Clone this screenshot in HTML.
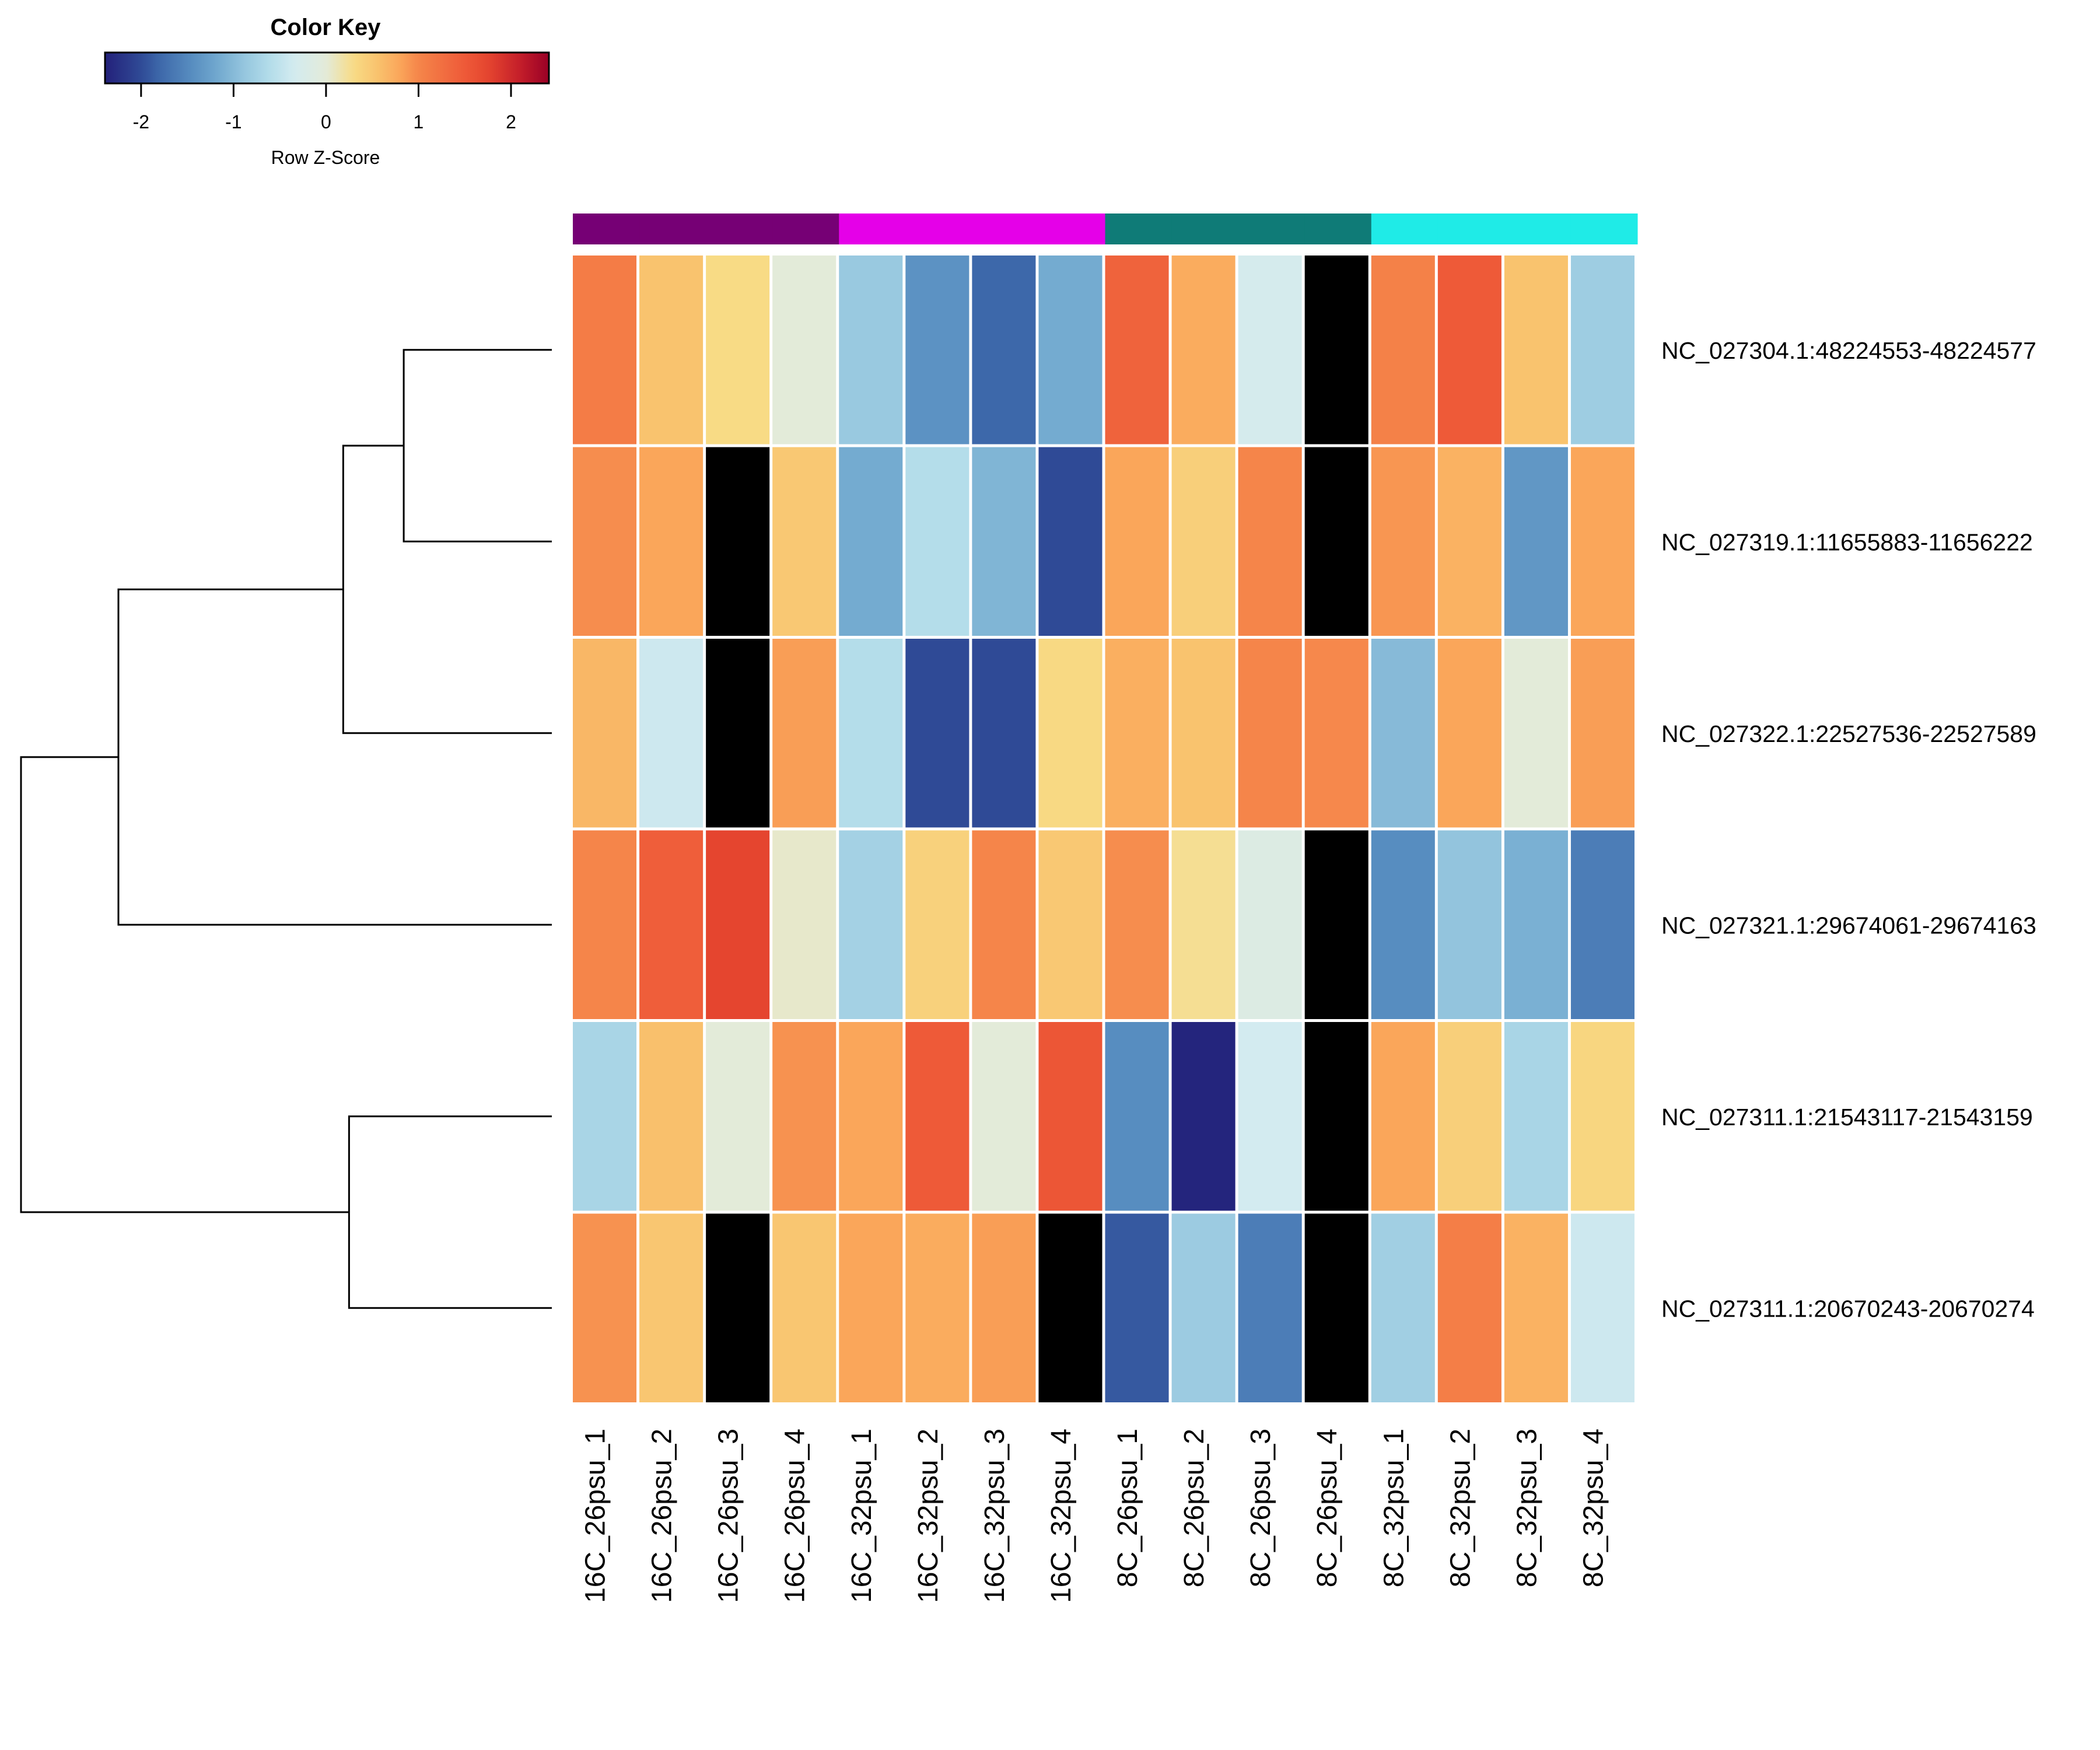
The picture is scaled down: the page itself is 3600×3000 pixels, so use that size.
<!DOCTYPE html>
<html><head><meta charset="utf-8">
<style>html,body{margin:0;padding:0;background:#fff}svg{display:block}text{font-family:"Liberation Sans",Arial,sans-serif}</style>
</head><body>
<svg id="chart" width="3600" height="3000" viewBox="0 0 3600 3000" xmlns="http://www.w3.org/2000/svg">
<rect width="3600" height="3000" fill="#fff"/>
<defs><linearGradient id="keygrad" x1="0" x2="1" y1="0" y2="0"></linearGradient></defs>
<g id="key"></g>
<g id="dendro"></g>
<g id="colbar"></g>
<g id="cells"></g>
<g id="rowlabels"></g>
<g id="collabels"></g>
</svg>
<script>
const columns = ["16C_26psu_1","16C_26psu_2","16C_26psu_3","16C_26psu_4","16C_32psu_1","16C_32psu_2","16C_32psu_3","16C_32psu_4","8C_26psu_1","8C_26psu_2","8C_26psu_3","8C_26psu_4","8C_32psu_1","8C_32psu_2","8C_32psu_3","8C_32psu_4"];
const rows = ["NC_027304.1:48224553-48224577","NC_027319.1:11655883-11656222","NC_027322.1:22527536-22527589","NC_027321.1:29674061-29674163","NC_027311.1:21543117-21543159","NC_027311.1:20670243-20670274"];
const groups = ["16C_26psu","16C_32psu","8C_26psu","8C_32psu"];
const groupColors = ["#760075","#E500E8","#0F7B77","#1FEBE7"];
const row1 = [1.1,0.55,0.3,0.0,-0.85,-1.4,-1.8,-1.15,1.4,0.75,-0.3,null,1.05,1.5,0.55,-0.8];
const row2 = [0.95,0.8,null,0.5,-1.15,-0.6,-1.05,-2.0,0.8,0.42,1.0,null,0.9,0.7,-1.35,0.8];
const row3 = [0.65,-0.4,null,0.85,-0.6,-2.0,-2.0,0.32,0.72,0.55,1.0,0.98,-1.0,0.8,0.0,0.85];
const row4 = [1.0,1.45,1.75,0.05,-0.75,0.4,1.0,0.5,0.95,0.25,-0.15,null,-1.45,-0.9,-1.1,-1.6];
const row5 = [-0.7,0.58,0.0,0.92,0.8,1.5,0.0,1.55,-1.45,-2.35,-0.35,null,0.8,0.42,-0.7,0.35];
const row6 = [0.92,0.52,null,0.52,0.8,0.75,0.85,null,-1.9,-0.82,-1.6,null,-0.78,1.08,0.7,-0.4];
const values = [row1,row2,row3,row4,row5,row6];
const keyTicks = [-2,-1,0,1,2];
const keyRange = [-2.39,2.41];
const mergeLeft = ['L0','A','B','L4','C'];
const mergeRight = ['L1','L2','L3','L5','D'];
const mergeHeights = [0.279,0.393,0.8165,0.382,1.0];

const stops = [[-2.4,"#232079"],[-2.0,"#2F4A96"],[-1.8,"#3D68AA"],[-1.45,"#578DC0"],[-1.15,"#74ABD0"],[-0.85,"#99C9E0"],[-0.6,"#B4DDEA"],[-0.35,"#D3EBF0"],[0,"#E3EBD9"],[0.3,"#F8DB85"],[0.55,"#F9C36E"],[0.8,"#FAA65A"],[1.0,"#F5854A"],[1.5,"#EE5A38"],[1.75,"#E5452F"],[2.1,"#C41E2A"],[2.41,"#990026"]];
function hex(h){return [1,3,5].map(i=>parseInt(h.substr(i,2),16));}
function color(v){
  if(v===null) return "#000";
  if(v<=stops[0][0]) return stops[0][1];
  for(let i=1;i<stops.length;i++){
    if(v<=stops[i][0]){
      const t=(v-stops[i-1][0])/(stops[i][0]-stops[i-1][0]);
      const a=hex(stops[i-1][1]), b=hex(stops[i][1]);
      return "rgb("+a.map((c,k)=>Math.round(c+(b[k]-c)*t)).join(",")+")";
    }
  }
  return stops[stops.length-1][1];
}
const NS="http://www.w3.org/2000/svg";
function mk(tag,attrs,parent){const e=document.createElementNS(NS,tag);for(const k in attrs)e.setAttribute(k,attrs[k]);parent.appendChild(e);return e;}

const hx0=982, hx1=2802, hy0=438, hy1=2404, gap=5;
const colW=(hx1-hx0+gap)/columns.length, rowH=(hy1-hy0+gap)/rows.length;
const xCol=i=>hx0+i*colW, yRow=j=>hy0+j*rowH;

const key=document.getElementById('key');
const kx0=180,kx1=941,ky0=90,ky1=143;
const kx=v=>kx0+(v-keyRange[0])/(keyRange[1]-keyRange[0])*(kx1-kx0);
const grad=document.getElementById('keygrad');
for(let i=0;i<=60;i++){const v=keyRange[0]+(keyRange[1]-keyRange[0])*i/60;mk('stop',{offset:(i/60),'stop-color':color(v)},grad);}
let t=mk('text',{x:558,y:60,'font-size':40,'font-weight':'bold','text-anchor':'middle'},key);t.textContent="Color Key";


let r=mk('rect',{x:kx0,y:ky0,width:kx1-kx0,height:ky1-ky0,fill:'url(#keygrad)',stroke:'#000','stroke-width':3},key);


keyTicks.forEach(v=>{
  const l=mk('line',{x1:kx(v),x2:kx(v),y1:ky1,y2:166,stroke:'#000','stroke-width':3},key);
  
  
  const tx=mk('text',{x:kx(v),y:220,'font-size':32,'text-anchor':'middle'},key);tx.textContent=String(v);
  
  
});
t=mk('text',{x:558,y:281,'font-size':32,'text-anchor':'middle'},key);t.textContent="Row Z-Score";



const colbar=document.getElementById('colbar');
columns.forEach((c,i)=>{
  const g=groups.findIndex(p=>c.startsWith(p+"_"));
  const e=mk('rect',{x:xCol(i),y:366,width:colW+0.5,height:53,fill:groupColors[g]},colbar);
  
  
});

const cells=document.getElementById('cells');
values.forEach((row,j)=>row.forEach((v,i)=>{
  const e=mk('rect',{x:xCol(i),y:yRow(j),width:colW-gap,height:rowH-gap,fill:color(v)},cells);
  
  
}));

const rl=document.getElementById('rowlabels');
rows.forEach((n,j)=>{
  const e=mk('text',{x:2848,y:yRow(j)+(rowH-gap)/2+15,'font-size':41},rl);e.textContent=n;
  
  
});
const cl=document.getElementById('collabels');
columns.forEach((c,i)=>{
  const cx=xCol(i)+(colW-gap)/2, y=2449;
  const e=mk('text',{x:0,y:0,'font-size':48,'text-anchor':'end',transform:`translate(${cx},${y}) rotate(-90)`},cl);e.textContent=c;
  
  
});

const dg=document.getElementById('dendro');
const dxLeaf=946, dxRoot=36;
const dx=h=>dxLeaf-(dxLeaf-dxRoot)*h;
const leafY=j=>yRow(j)+(rowH-gap)/2;
const names=['A','B','C','D','R'];
const node={};
for(let j=0;j<rows.length;j++) node['L'+j]={x:dxLeaf,y:leafY(j)};
mergeHeights.forEach((h,k)=>{
  const a=node[mergeLeft[k]], b=node[mergeRight[k]], x=dx(h);
  const p=mk('path',{d:`M${a.x},${a.y}H${x}V${b.y}H${b.x}`,fill:'none',stroke:'#000','stroke-width':3},dg);
  
  
  node[names[k]]={x:x,y:(a.y+b.y)/2};
});
</script>
</body></html>
